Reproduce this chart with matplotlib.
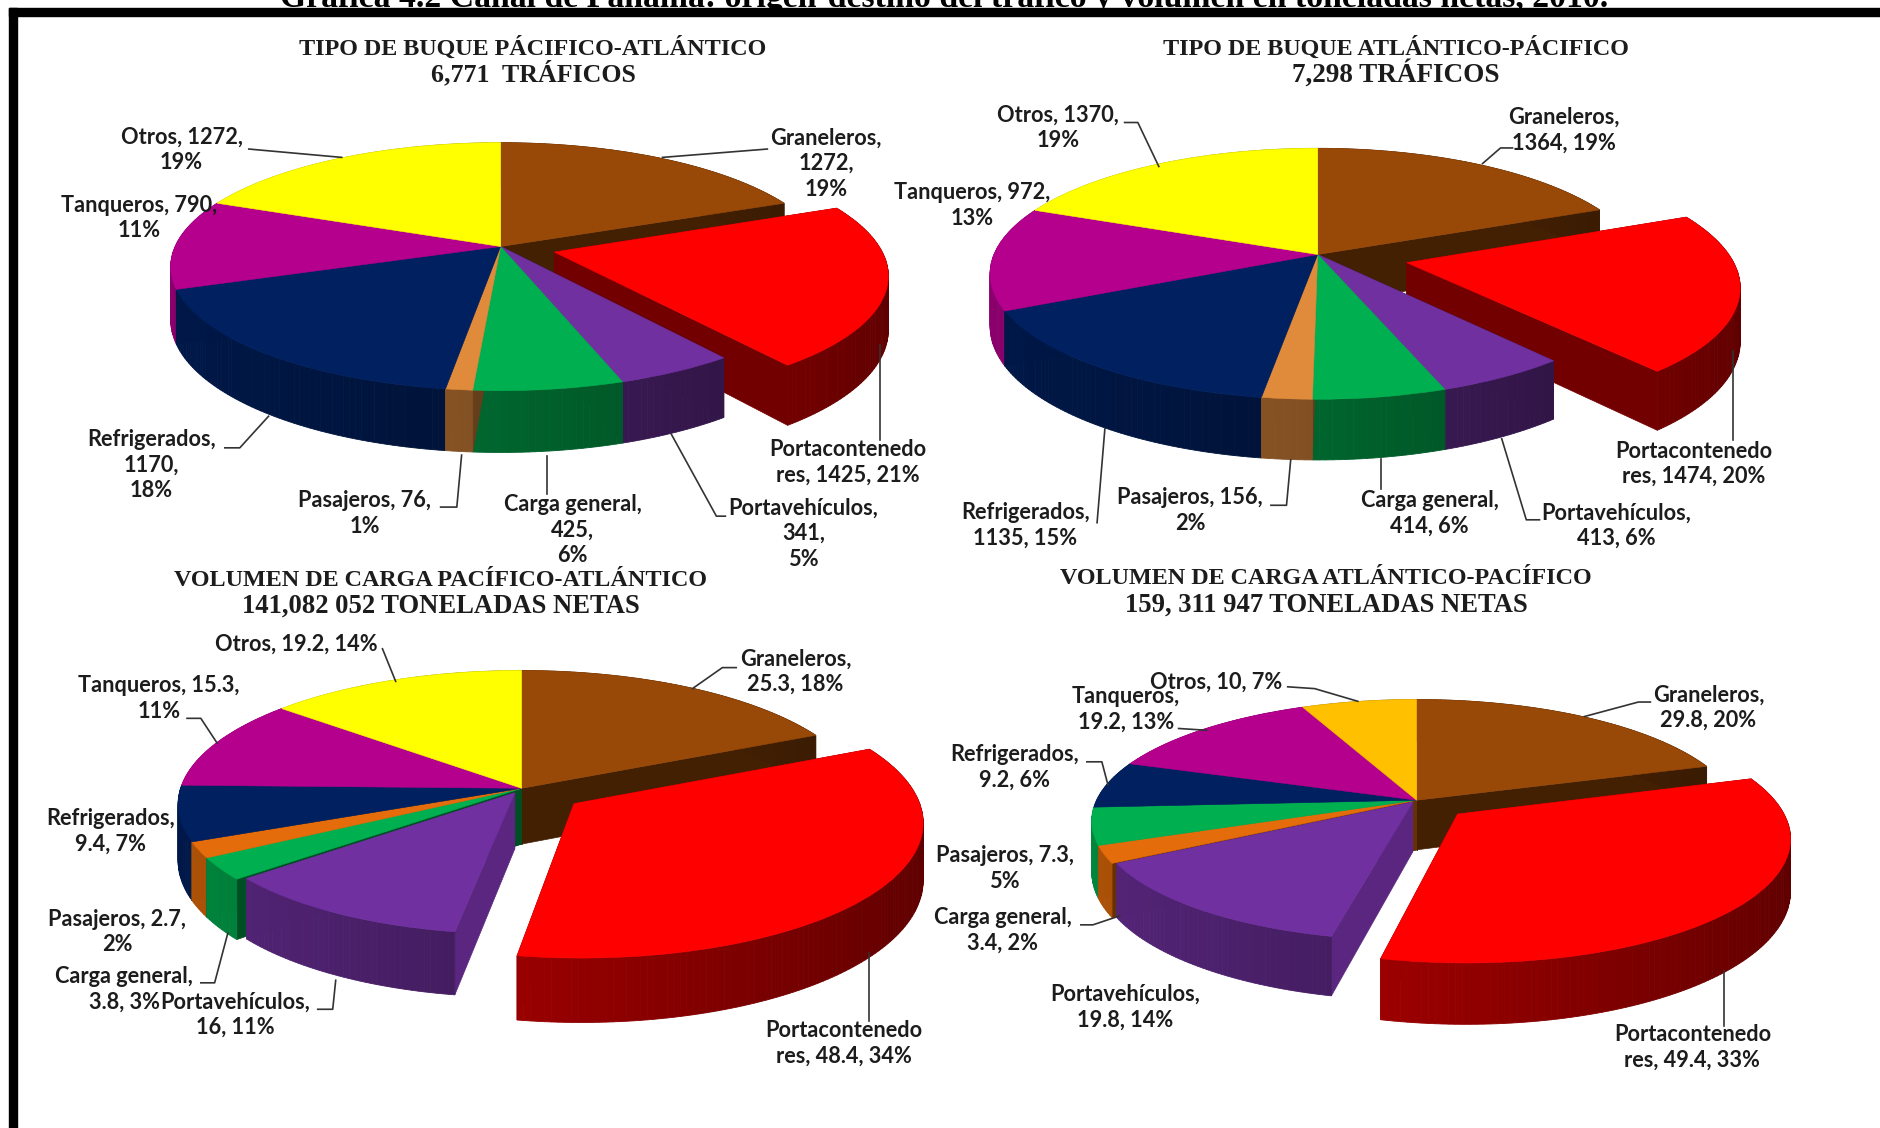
import numpy as np
import matplotlib
matplotlib.use("Agg")
import matplotlib.pyplot as plt
from matplotlib.transforms import Transform
from matplotlib.patches import Rectangle
from matplotlib.colors import to_rgb

# ---------- data ----------
values_tipo_pa = [1272, 1425, 341, 425, 76, 1170, 790, 1272]
values_tipo_ap = [1364, 1474, 413, 414, 156, 1135, 972, 1370]
values_vol_pa = [25.3, 48.4, 16, 3.8, 2.7, 9.4, 15.3, 19.2]
values_vol_ap = [29.8, 49.4, 19.8, 3.4, 7.3, 9.2, 19.2, 10]

BROWN, RED, PURPLE, GREEN, ORANGE = "#984807", "#FF0000", "#7030A0", "#00B050", "#E46C0A"
LORANGE, NAVY, MAGENTA, YELLOW, GOLD = "#E08A3C", "#002060", "#B5008E", "#FFFF00", "#FFC000"

colors_1 = [BROWN, RED, PURPLE, GREEN, LORANGE, NAVY, MAGENTA, YELLOW]
colors_3 = [BROWN, RED, PURPLE, GREEN, ORANGE, NAVY, MAGENTA, YELLOW]
colors_4 = [BROWN, RED, PURPLE, ORANGE, GREEN, NAVY, MAGENTA, GOLD]

explode_1 = [0, .17, 0, 0, 0, 0, 0, 0]
explode_2 = [0, .28, 0, 0, 0, 0, 0, 0]
explode_3 = [0, .19, .04, 0, 0, 0, 0, 0]
explode_4 = [0, .17, .02, 0, 0, 0, 0, 0]

title_main = "Gráfica 4.2 Canal de Panamá: origen-destino del tráfico y volumen en toneladas netas, 2010."

# ---------- panels: crop offset, title, geometry, labels, leader lines ----------
panels = [
    dict(values=values_tipo_pa, colors=colors_1, explode=explode_1, off=(0, 0), sy=2.751, purple_r=1,
         geo=(500.6, 246.5, 325.5, 120.7, .1625, 51.8), sub_size=18.6,
         title=("TIPO DE BUQUE PÁCIFICO-ATLÁNTICO", "6,771  TRÁFICOS"), tpos=(533, 48.3, 73.8),
         labels=[("Graneleros,\n1272,\n19%", 1378, 450), ("Portacontenedo\nres, 1425, 21%", 1415, 1272),
                 ("Portavehículos,\n341,\n5%", 1340, 1468), ("Carga general,\n425,\n6%", 955, 1458),
                 ("Pasajeros, 76,\n1%", 608, 1412), ("Refrigerados,\n1170,\n18%", 253, 1280),
                 ("Tanqueros, 790,\n11%", 232, 600), ("Otros, 1272,\n19%", 303, 413)],
         leaders=[[(1280, 410), (1105, 433)], [(1468, 950), (1468, 1210)],
                  [(1120, 1195), (1195, 1420), (1210, 1420)], [(913, 1255), (913, 1360)],
                  [(770, 1252), (762, 1395), (735, 1395)], [(448, 1145), (400, 1232), (375, 1232)],
                  [(415, 410), (570, 433)]]),
    dict(values=values_tipo_ap, colors=colors_1, explode=explode_2, off=(940, 0), sy=2.751, purple_r=1,
         geo=(1317.7, 254.5, 323.7, 122.5, .1536, 51.4), sub_size=19.5,
         title=("TIPO DE BUQUE ATLÁNTICO-PÁCIFICO", "7,298 TRÁFICOS"), tpos=(1396, 48.3, 73.8),
         labels=[("Graneleros,\n1364, 19%", 1040, 358), ("Portacontenedo\nres, 1474, 20%", 1258, 1276),
                 ("Portavehículos,\n413, 6%", 1128, 1446), ("Carga general,\n414, 6%", 817, 1412),
                 ("Pasajeros, 156,\n2%", 417, 1405), ("Refrigerados,\n1135, 15%", 142, 1445),
                 ("Tanqueros, 972,\n13%", 53, 566), ("Otros, 1370,\n19%", 197, 352)],
         leaders=[[(905, 450), (935, 407), (955, 407)], [(1323, 965), (1323, 1210)],
                  [(937, 1207), (978, 1430), (1000, 1430)], [(736, 1262), (736, 1345)],
                  [(585, 1265), (578, 1390), (552, 1390)], [(275, 1180), (262, 1438)],
                  [(365, 458), (330, 337), (308, 337)]]),
    dict(values=values_vol_pa, colors=colors_3, explode=explode_3, off=(0, 560), sy=2.76, purple_r=.94,
         geo=(521.6, 788.3, 341, 131.9, .12, 55.8), sub_size=19.2,
         title=("VOLUMEN DE CARGA PACÍFICO-ATLÁNTICO", "141,082 052 TONELADAS NETAS"), tpos=(441, 580.6, 606.4),
         labels=[("Graneleros,\n25.3, 18%", 1327, 308), ("Portacontenedo\nres, 48.4, 34%", 1408, 1335),
                 ("Portavehículos,\n16, 11%", 393, 1255), ("Carga general,\n3.8, 3%", 207, 1185),
                 ("Pasajeros, 2.7,\n2%", 195, 1027), ("Refrigerados,\n9.4, 7%", 185, 748),
                 ("Tanqueros, 15.3,\n11%", 265, 382), ("Otros, 19.2, 14%", 495, 232)],
         leaders=[[(1155, 355), (1205, 297), (1228, 297)], [(1450, 1085), (1450, 1272)],
                  [(560, 1160), (555, 1240), (530, 1240)], [(380, 1030), (358, 1167), (335, 1167)],
                  [(362, 505), (335, 437), (312, 437)], [(660, 335), (638, 245)]]),
    dict(values=values_vol_ap, colors=colors_4, explode=explode_4, off=(940, 560), sy=2.76, purple_r=.97,
         geo=(1416.6, 800.2, 320, 118, .172, 49.6), sub_size=19.2,
         title=("VOLUMEN DE CARGA ATLÁNTICO-PACÍFICO", "159, 311 947 TONELADAS NETAS"), tpos=(1326, 579, 605),
         labels=[("Graneleros,\n29.8, 20%", 1282, 408), ("Portacontenedo\nres, 49.4, 33%", 1255, 1345),
                 ("Portavehículos,\n19.8, 14%", 308, 1235), ("Carga general,\n3.4, 2%", 105, 1022),
                 ("Pasajeros, 7.3,\n5%", 108, 852), ("Refrigerados,\n9.2, 6%", 125, 573),
                 ("Tanqueros,\n19.2, 13%", 310, 412), ("Otros, 10, 7%", 460, 337)],
         leaders=[[(1075, 432), (1165, 392), (1185, 392)], [(1308, 1135), (1308, 1285)],
                  [(300, 982), (255, 1007), (235, 1007)], [(280, 620), (270, 557), (245, 557)],
                  [(445, 470), (398, 465)], [(697, 390), (625, 355), (580, 350)]]),
]


class Persp(Transform):
    """Perspective view of the pie's ground plane, z pixels below the top face."""
    input_dims = output_dims = 2
    is_separable = False
    has_inverse = False

    def __init__(self, cx, cy, rx, a, b, z=0.0):
        super().__init__()
        self.p = (cx, cy, rx, a, b, z)

    def transform_non_affine(self, v):
        cx, cy, rx, a, b, z = self.p
        v = np.asarray(v, float)
        d = 1 + b * v[:, 1]
        return np.column_stack([cx + rx * v[:, 0] / d, cy + (-a * v[:, 1] + z) / d])


def shade(col, f):
    return tuple(c * f for c in to_rgb(col))


fig = plt.figure(figsize=(18.81, 11.28), dpi=100, facecolor="white")
ax = fig.add_axes([0, 0, 1, 1])

SX = 1568 / 940
TXT = "#1c1c1c"


def draw_panel(p):
    cx, cy, rx, a, b, depth = p["geo"]
    top = Persp(cx, cy, rx, a, b)
    low = Persp(cx, cy, rx, a, b, depth)
    wedges, _ = ax.pie(p["values"], colors=p["colors"], explode=p["explode"], startangle=90,
                       counterclock=False, wedgeprops=dict(linewidth=0))
    mids = [np.sin(np.radians((w.theta1 + w.theta2) / 2)) + w.center[1] for w in wedges]
    order = np.argsort(np.argsort(-np.array(mids)))
    for w, rank, col, ex in zip(wedges, order, p["colors"], p["explode"]):
        base = 10 + rank * 3
        if col == PURPLE:
            w.set_radius(p["purple_r"])
        ctr = np.array(w.center)
        w.set_transform(top + ax.transData)
        w.set_edgecolor(col)
        w.set_linewidth(.4)
        w.set_zorder(45)  # every top face lies in the highest plane
        # straight cut faces of the slice
        for th in (w.theta1, w.theta2):
            edge = ctr + w.r * np.array([np.cos(np.radians(th)), np.sin(np.radians(th))])
            pts = np.array([ctr, edge])
            t, l = top.transform_non_affine(pts), low.transform_non_affine(pts)
            q = np.vstack([t, l[::-1]])
            f = .8 if (ex and col == PURPLE) else .45
            ax.fill(q[:, 0], q[:, 1], color=shade(col, f), lw=.5, zorder=base)
        # outer wall, shaded along the arc
        n = max(4, int(w.theta2 - w.theta1))
        ths = np.radians(np.linspace(w.theta1, w.theta2, n + 1))
        for t0, t1 in zip(ths[:-1], ths[1:]):
            pts = ctr + w.r * np.column_stack([np.cos([t0, t1]), np.sin([t0, t1])])
            t, l = top.transform_non_affine(pts), low.transform_non_affine(pts)
            q = np.vstack([t, l[::-1]])
            f = .57 - .2 * np.cos((t0 + t1) / 2)
            ax.fill(q[:, 0], q[:, 1], color=shade(col, f), lw=.6, zorder=base + 1)

    ox, oy = p["off"]
    sy = p["sy"]
    for txt, x, y in p["labels"]:
        ax.text(ox + x / SX, oy + y / sy, txt, ha="center", va="center", fontsize=15.7,
                family="Lato", weight="bold", color=TXT, linespacing=1.27, zorder=60)
    for pts in p["leaders"]:
        xs = [ox + q[0] / SX for q in pts]
        ys = [oy + q[1] / sy for q in pts]
        ax.plot(xs, ys, color="#333333", lw=1.2, zorder=55)
    tx, y1, y2 = p["tpos"]
    for line, y, size in zip(p["title"], (y1, y2), (17.4, p["sub_size"])):
        ax.text(tx, y, line, ha="center", va="center", fontsize=size, family="Liberation Serif",
                weight="bold", color=TXT, zorder=60)


for panel in panels:
    draw_panel(panel)

ax.set_aspect("auto")
ax.set_xlim(0, 1881)
ax.set_ylim(1128, 0)
ax.axis("off")

# page frame around the pasted picture and the clipped caption above it
ax.add_patch(Rectangle((9, 7.5), 1872, 8, color="black", zorder=70))
ax.add_patch(Rectangle((9, 7.5), 7.5, 1120.5, color="black", zorder=70))
ax.text(944, 6.5, title_main, ha="center", va="baseline", fontsize=24.3,
        family="Liberation Serif", weight="bold", color="black", zorder=71)

fig.savefig("out.png", dpi=100, facecolor="white")
